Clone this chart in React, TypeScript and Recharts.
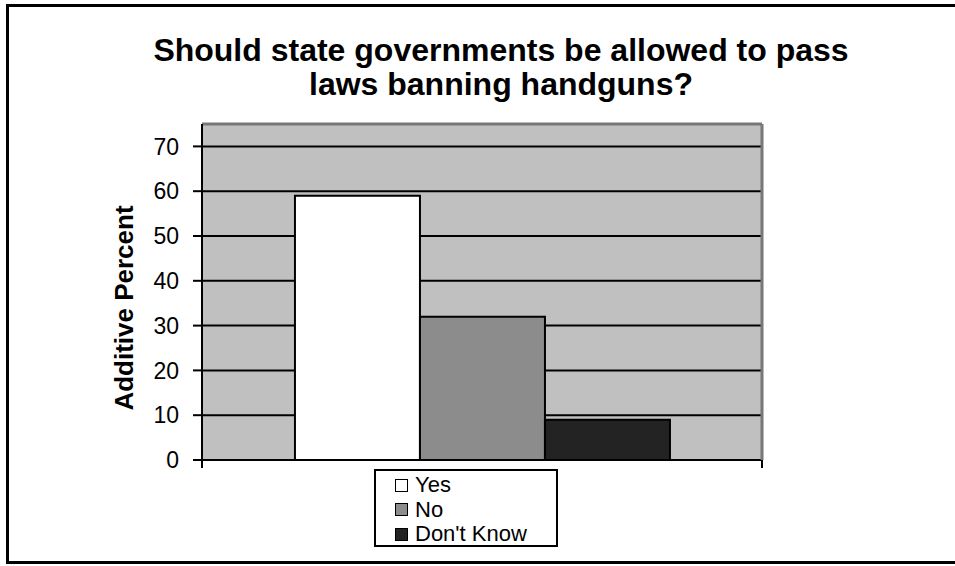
import { BarChart, Bar, XAxis, YAxis, CartesianGrid, Legend, ReferenceLine, Label } from 'recharts';

// values
const categories = ['Handgun ban'];
const seriesNames = ['Yes', 'No', "Don't Know"];
const seriesValues = [59, 32, 9];
const yTicks = [0, 10, 20, 30, 40, 50, 60, 70];
const yMax = 75;
const titleLines = ['Should state governments be allowed to pass', 'laws banning handguns?'];

const FILLS = ['#ffffff', '#8c8c8c', '#232323'];
const FONT = '"Liberation Sans", Arial, Helvetica, sans-serif';
const EDGE_TICK_PX = 8;

const data = categories.map((c) => {
  const row: Record<string, string | number> = { category: c };
  seriesNames.forEach((n, i) => {
    row[n] = seriesValues[i];
  });
  return row;
});

// category boundary: optional grey frame line, plus the small tick below the axis
const edgeLine = (withFrame: boolean) => (p: any) => {
  const bottom = Math.max(p.y1, p.y2);
  const top = Math.min(p.y1, p.y2);
  return (
    <g>
      {withFrame && <line x1={p.x1} x2={p.x1} y1={top} y2={bottom} stroke="#777" strokeWidth={3} />}
      <line x1={p.x1} x2={p.x1} y1={bottom} y2={bottom + EDGE_TICK_PX} stroke="#000" strokeWidth={2} />
    </g>
  );
};

const renderLegend = (props: any) => {
  const payload = [...(props.payload || [])].sort(
    (a: any, b: any) => seriesNames.indexOf(a.value) - seriesNames.indexOf(b.value)
  );
  return (
    <div
      style={{
        width: 184,
        height: 78,
        boxSizing: 'border-box',
        border: '2px solid #000',
        background: '#fff',
        padding: '2px 0 0 19px',
        fontFamily: FONT,
        color: '#000',
      }}
    >
      {payload.map((entry: any) => (
        <div key={entry.value} style={{ display: 'flex', alignItems: 'center', height: 24.5, fontSize: 22, lineHeight: '24.5px' }}>
          <span
            style={{
              display: 'inline-block',
              width: 13,
              height: 13,
              boxSizing: 'border-box',
              border: '1.5px solid #000',
              background: entry.color,
              marginRight: 7,
            }}
          />
          {entry.value}
        </div>
      ))}
    </div>
  );
};

export default function App() {
  return (
    <div style={{ position: 'absolute', left: 0, top: 0, width: 955, height: 566, overflow: 'hidden', background: '#fff', fontFamily: FONT }}>
      {/* outer chart frame (right edge falls outside the picture) */}
      <div
        style={{
          position: 'absolute',
          left: 6,
          top: 4,
          width: 1000,
          height: 560,
          boxSizing: 'border-box',
          border: '3px solid #000',
          borderRight: 'none',
        }}
      />

      <svg width={955} height={110} style={{ position: 'absolute', left: 0, top: 0 }}>
        {titleLines.map((t, i) => (
          <text key={t} x={501} y={61 + i * 34} textAnchor="middle" fontFamily={FONT} fontWeight="bold" fontSize={32} fill="#000">
            {t}
          </text>
        ))}
      </svg>

      <div style={{ position: 'absolute', left: 0, top: 0 }}>
        <BarChart
          width={955}
          height={566}
          data={data}
          margin={{ top: 124, right: 193, left: 142, bottom: 106 }}
          barGap={0}
          barCategoryGap="16.6%"
        >
          <CartesianGrid vertical={false} fill="#c0c0c0" fillOpacity={1} stroke="#000" strokeWidth={2} />
          <XAxis
            dataKey="category"
            height={0}
            axisLine={{ stroke: '#000', strokeWidth: 2 }}
            tickLine={false}
            tick={false}
          />
          <YAxis
            width={60}
            domain={[0, yMax]}
            ticks={yTicks}
            interval={0}
            axisLine={{ stroke: '#000', strokeWidth: 2 }}
            tickLine={{ stroke: '#000', strokeWidth: 2 }}
            tickSize={9}
            tickMargin={14}
            tick={{ fill: '#000', fontSize: 23, fontFamily: FONT }}
          >
            <Label
              content={() => (
                <text
                  x={133}
                  y={308}
                  transform="rotate(-90 133 308)"
                  textAnchor="middle"
                  fontFamily={FONT}
                  fontWeight="bold"
                  fontSize={26}
                  fill="#000"
                >
                  Additive Percent
                </text>
              )}
            />
          </YAxis>
          {/* grey frame on top of the plot area */}
          <ReferenceLine y={yMax} stroke="#777" strokeWidth={3} />
          {seriesNames.map((n, i) => (
            <Bar
              key={n}
              dataKey={n}
              name={n}
              fill={FILLS[i]}
              stroke="#000"
              strokeWidth={2}
              isAnimationActive={false}
            />
          ))}
          <ReferenceLine x={categories[0]} position="start" ifOverflow="visible" shape={edgeLine(false)} />
          <ReferenceLine x={categories[0]} position="end" ifOverflow="visible" shape={edgeLine(true)} />
          <Legend
            layout="vertical"
            align="center"
            verticalAlign="middle"
            content={renderLegend}
            wrapperStyle={{ position: 'absolute', left: 374, top: 469, width: 184, height: 78 }}
          />
        </BarChart>
      </div>
    </div>
  );
}
